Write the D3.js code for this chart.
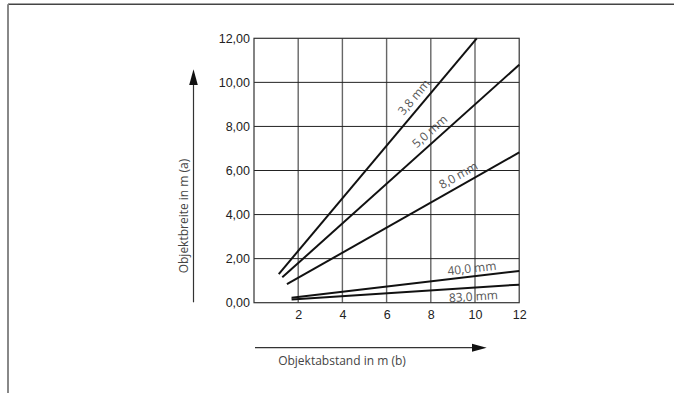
<!DOCTYPE html>
<html>
<head>
<meta charset="utf-8">
<script src="https://cdn.jsdelivr.net/npm/d3@7"></script>
<style>
  html, body { margin: 0; padding: 0; background: #fff; }
  svg { display: block; }
</style>
</head>
<body>
<script>
// ---- data ----
const lensLabels = ["3,8 mm", "5,0 mm", "8,0 mm", "40,0 mm", "83,0 mm"];
const xStart = [1.12, 1.28, 1.49, 1.70, 1.70];
const yStart = [1.30, 1.15, 0.84, 0.23, 0.14];
const xEnd   = [10.08, 12, 12, 12, 12];
const yEnd   = [12, 10.8, 6.82, 1.44, 0.82];
const labelAt = [7.59, 8.26, 9.47, 9.9, 9.9];      // distance (x) where label sits
const labelSide = [1, 1, 1, 1, -1];                // above (+1) / below (-1) the line
const xTicks = [2, 4, 6, 8, 10, 12];
const yTicks = [0, 2, 4, 6, 8, 10, 12];
const xTitle = "Objektabstand in m (b)";
const yTitle = "Objektbreite in m (a)";

const W = 674, H = 393;
const svg = d3.select("body").append("svg").attr("width", W).attr("height", H);

// outer frame (top + left)
svg.append("line").attr("x1", 8).attr("x2", W).attr("y1", 4.3).attr("y2", 4.3)
  .attr("stroke", "#444").attr("stroke-width", 1.5);
svg.append("line").attr("x1", 8).attr("x2", 8).attr("y1", 4.3).attr("y2", H)
  .attr("stroke", "#888").attr("stroke-width", 2);

const x = d3.scaleLinear().domain([0, 12]).range([254, 519.2]);
const y = d3.scaleLinear().domain([0, 12]).range([302.7, 38.3]);

const g = svg.append("g");

// grid
const gridVals = [2, 4, 6, 8, 10];
g.selectAll("line.vg").data(gridVals).join("line")
  .attr("x1", d => x(d)).attr("x2", d => x(d))
  .attr("y1", y(0)).attr("y2", y(12))
  .attr("stroke", "#666").attr("stroke-width", 1.4);
g.selectAll("line.hg").data(gridVals).join("line")
  .attr("y1", d => y(d)).attr("y2", d => y(d))
  .attr("x1", x(0)).attr("x2", x(12))
  .attr("stroke", "#222").attr("stroke-width", 1);
// border
g.append("rect").attr("x", x(0)).attr("y", y(12))
  .attr("width", x(12) - x(0)).attr("height", y(0) - y(12))
  .attr("fill", "none").attr("stroke", "#333").attr("stroke-width", 1.2);

// axes
const fmt = d3.format(".2f");
const yAxis = g.append("g").attr("transform", `translate(${x(0)},0)`)
  .call(d3.axisLeft(y).tickValues(yTicks).tickSize(0).tickPadding(4)
    .tickFormat(d => fmt(d).replace(".", ",")));
const xAxis = g.append("g").attr("transform", `translate(0,${y(0)})`)
  .call(d3.axisBottom(x).tickValues(xTicks).tickSize(0).tickPadding(7));
[yAxis, xAxis].forEach(a => {
  a.select(".domain").remove();
  a.selectAll("text").attr("font-family", "'Liberation Sans', Arial, sans-serif")
    .attr("font-size", 12.5).attr("fill", "#222");
});

// lines
const series = lensLabels.map((l, i) => ({
  label: l, x0: xStart[i], y0: yStart[i], x1: xEnd[i], y1: yEnd[i],
  lx: labelAt[i], side: labelSide[i]
}));
g.selectAll("line.s").data(series).join("line")
  .attr("x1", d => x(d.x0)).attr("y1", d => y(d.y0))
  .attr("x2", d => x(d.x1)).attr("y2", d => y(d.y1))
  .attr("stroke", "#111").attr("stroke-width", 2);

// labels along lines
series.forEach((d, i) => {
  const slope = (d.y1 - d.y0) / (d.x1 - d.x0);
  const ly = d.y0 + slope * (d.lx - d.x0);
  const px = x(d.lx), py = y(ly);
  const ang = Math.atan2(y(d.y1) - y(d.y0), x(d.x1) - x(d.x0)) * 180 / Math.PI;
  g.append("text")
    .attr("transform", `translate(${px},${py}) rotate(${ang})`)
    .attr("text-anchor", "middle")
    .attr("dy", d.side > 0 ? (i < 3 ? -6 : -4) : 13)
    .attr("font-family", "'Open Sans', sans-serif")
    .attr("font-size", 12)
    .attr("fill", "#555")
    .text(d.label);
});

// y title + arrow
const yax = 193.5;
svg.append("line").attr("x1", yax).attr("x2", yax).attr("y1", 302.3).attr("y2", 84)
  .attr("stroke", "#333").attr("stroke-width", 1.2);
svg.append("path").attr("d", `M${yax},69.3 L${yax - 4.3},85 L${yax + 4.3},85 Z`).attr("fill", "#111");
svg.append("text")
  .attr("transform", `translate(183.5,216) rotate(-90)`)
  .attr("text-anchor", "middle").attr("dy", "0.35em")
  .attr("font-family", "'Open Sans', sans-serif").attr("font-size", 12).attr("fill", "#444")
  .text(yTitle);

// x title + arrow
const xay = 347.7;
svg.append("line").attr("x1", 255).attr("x2", 473).attr("y1", xay).attr("y2", xay)
  .attr("stroke", "#333").attr("stroke-width", 1.2);
svg.append("path").attr("d", `M486.7,${xay} L472,${xay - 4} L472,${xay + 4} Z`).attr("fill", "#111");
svg.append("text")
  .attr("x", 342).attr("y", 365)
  .attr("text-anchor", "middle")
  .attr("font-family", "'Open Sans', sans-serif").attr("font-size", 12).attr("fill", "#444")
  .text(xTitle);
</script>
</body>
</html>
